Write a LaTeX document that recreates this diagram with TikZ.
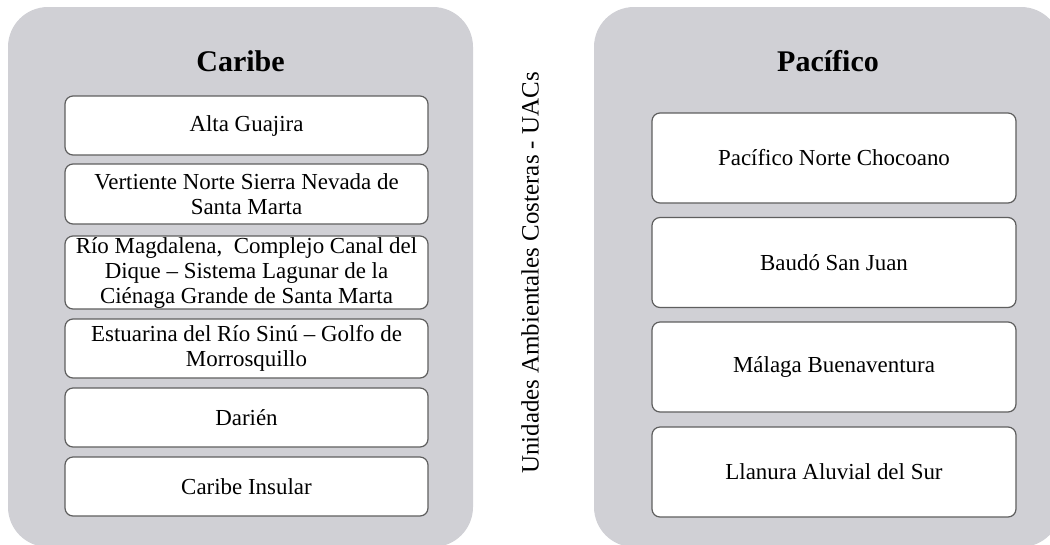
\documentclass[tikz,border=0pt]{standalone}
\usepackage{fontspec}
\setmainfont{Liberation Serif}
\definecolor{panelgray}{RGB}{208,208,213}
\definecolor{boxline}{RGB}{95,95,95}
\newcommand{\uacbox}{\fontsize{17.2}{18.75}\selectfont}
\newcommand{\uactitle}{\fontsize{22.5}{27}\selectfont\bfseries}
\newcommand{\uacside}{\fontsize{18.7}{22}\selectfont}
\begin{document}
\begin{tikzpicture}[x=0.75pt,y=0.75pt,yscale=-1,xscale=1,
	panel/.style={fill=panelgray, rounded corners=30pt},
	unitbox/.style={draw=boxline, line width=0.9pt, fill=white, rounded corners=6pt, align=center, inner sep=0pt, font=\uacbox},
	cbox/.style={unitbox, minimum width=272.25pt},
	pbox/.style={unitbox, minimum width=273pt, minimum height=67.5pt}]
	\useasboundingbox (0,0) rectangle (1050,544);
	\clip (0,0) rectangle (1050,544);
	
	%Rounded Rect [id:panel caribe] 
	\fill [panel] (8,7) rectangle (473,547);
	%Rounded Rect [id:panel pacifico] 
	\fill [panel] (594,7) rectangle (1061,547);
	
	% Text Node
	\node [font=\uactitle] (caribe) at (240.5,61) {Caribe};
	% Text Node
	\node [font=\uactitle] (pacifico) at (828,61) {Pacífico};
	
	% Caribe boxes
	\node [cbox, minimum height=44.25pt] (guajira) at (246.5,125.5) {Alta Guajira};
	\node [cbox, minimum height=45pt] (sierra) at (246.5,194) {Vertiente Norte Sierra Nevada de\\Santa Marta};
	\node [cbox, minimum height=54.75pt] (magdalena) at (246.5,272.5) {Río Magdalena,\ \ Complejo Canal del\\Dique – Sistema Lagunar de la\\Ciénaga Grande de Santa Marta};
	\node [cbox, minimum height=44.25pt] (sinu) at (246.5,348.5) {Estuarina del Río Sinú – Golfo de\\Morrosquillo};
	\node [cbox, minimum height=44.25pt] (darien) at (246.5,417.5) {Darién};
	\node [cbox, minimum height=44.25pt] (insular) at (246.5,486.5) {Caribe Insular};
	
	% Pacifico boxes
	\node [pbox] (chocoano) at (834,158) {Pacífico Norte Chocoano};
	\node [pbox] (baudo) at (834,262.5) {Baudó San Juan};
	\node [pbox] (malaga) at (834,367) {Málaga Buenaventura};
	\node [pbox] (llanura) at (834,472) {Llanura Aluvial del Sur};
	
	% Text Node
	\node [rotate=90, font=\uacside] (uacs) at (530,273) {Unidades Ambientales Costeras - UACs};
	
\end{tikzpicture}
\end{document}
